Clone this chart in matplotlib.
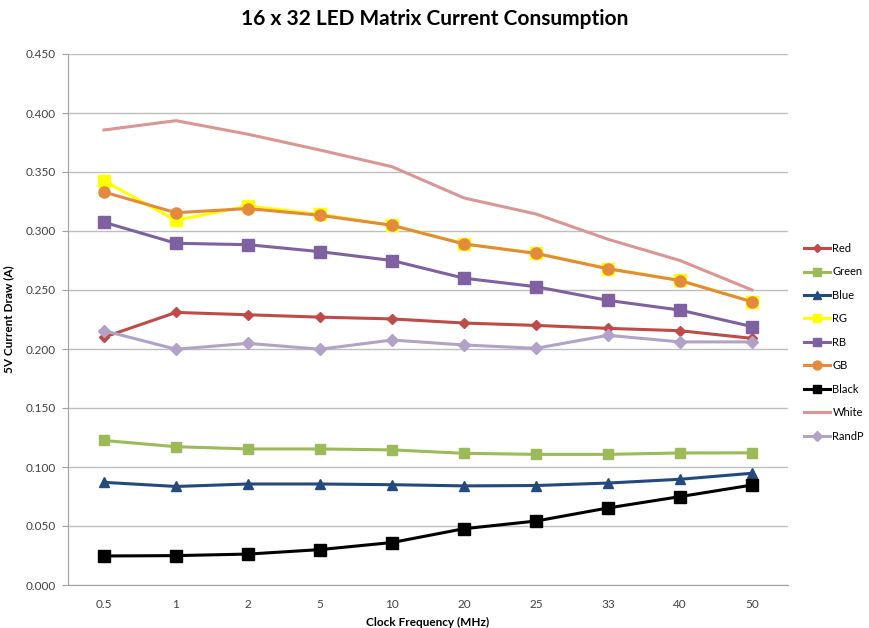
import matplotlib.pyplot as plt
import numpy as np

plt.rcParams['font.family'] = ['Lato', 'DejaVu Sans']

freqs = ['0.5', '1', '2', '5', '10', '20', '25', '33', '40', '50']

red = [0.210, 0.231, 0.229, 0.227, 0.2255, 0.222, 0.220, 0.2175, 0.2155, 0.209]
green = [0.1225, 0.1172, 0.1153, 0.1153, 0.1145, 0.1116, 0.1107, 0.1107, 0.1119, 0.112]
blue = [0.087, 0.0835, 0.0856, 0.0856, 0.085, 0.084, 0.0843, 0.0864, 0.0896, 0.0947]
rg = [0.3426, 0.309, 0.3212, 0.3140, 0.3050, 0.2892, 0.2812, 0.2682, 0.2582, 0.2402]
rb = [0.3074, 0.2896, 0.2884, 0.2825, 0.2750, 0.2600, 0.2528, 0.2412, 0.2330, 0.2190]
gb = [0.3330, 0.3155, 0.3190, 0.3133, 0.3048, 0.2890, 0.2810, 0.2680, 0.2580, 0.2400]
black = [0.0246, 0.0249, 0.0262, 0.0300, 0.0360, 0.0477, 0.0542, 0.0653, 0.0749, 0.0847]
white = [0.3856, 0.3935, 0.3820, 0.3686, 0.3545, 0.3280, 0.3144, 0.2930, 0.2750, 0.2500]
randp = [0.2155, 0.1998, 0.2048, 0.1998, 0.2076, 0.2034, 0.2006, 0.2116, 0.2060, 0.2060]

series = [
    ('Red', red, '#BE4B48', 'D', 5),
    ('Green', green, '#9BBB59', 's', 7),
    ('Blue', blue, '#23497D', '^', 7),
    ('RG', rg, '#FFFF00', 's', 8),
    ('RB', rb, '#7F60A0', 's', 8),
    ('GB', gb, '#E38A3C', 'o', 8),
    ('Black', black, '#000000', 's', 8),
    ('White', white, '#D99694', None, 0),
    ('RandP', randp, '#B3A2C7', 'D', 6),
]

fig = plt.figure(figsize=(8.7, 6.28), dpi=100)
ax = fig.add_axes([68 / 870, 1 - 585 / 628, 720 / 870, 531 / 628])

x = np.arange(len(freqs))
for name, vals, color, marker, ms in series:
    ax.plot(x, vals, color=color, marker=marker, markersize=ms, linewidth=2.2,
            label=name)

ax.set_xlim(-0.5, len(freqs) - 0.5)
ax.set_ylim(0, 0.45)
ax.set_yticks(np.arange(0, 0.451, 0.05))
ax.set_yticklabels([f'{v:.3f}' for v in np.arange(0, 0.451, 0.05)])
ax.set_xticks(x)
ax.set_xticklabels(freqs)
ax.tick_params(axis='both', labelsize=8.5, colors='#404040', length=0, pad=10)
ax.tick_params(axis='y', length=4, color='#A0A0A0', pad=5)
ax.grid(axis='y', color='#BEBEBE', linewidth=1)
ax.set_axisbelow(True)
for s in ['top', 'right']:
    ax.spines[s].set_visible(False)
for s in ['left', 'bottom']:
    ax.spines[s].set_color('#A0A0A0')

ax.set_xlabel('Clock Frequency (MHz)', fontsize=8.5, fontweight='bold', labelpad=5)
ax.set_ylabel('5V Current Draw (A)', fontsize=8.5, fontweight='bold', labelpad=8)
fig.suptitle('16 x 32 LED Matrix Current Consumption', fontsize=15,
             fontweight='bold', y=0.985)

fig.legend(loc='upper left', bbox_to_anchor=(804 / 870, 1 - 243 / 628),
           bbox_transform=fig.transFigure, frameon=False, fontsize=8,
           handlelength=2.3, labelspacing=1.12, handletextpad=0.25,
           borderpad=0, borderaxespad=0, markerscale=0.8)

fig.savefig('out.png', dpi=100)
